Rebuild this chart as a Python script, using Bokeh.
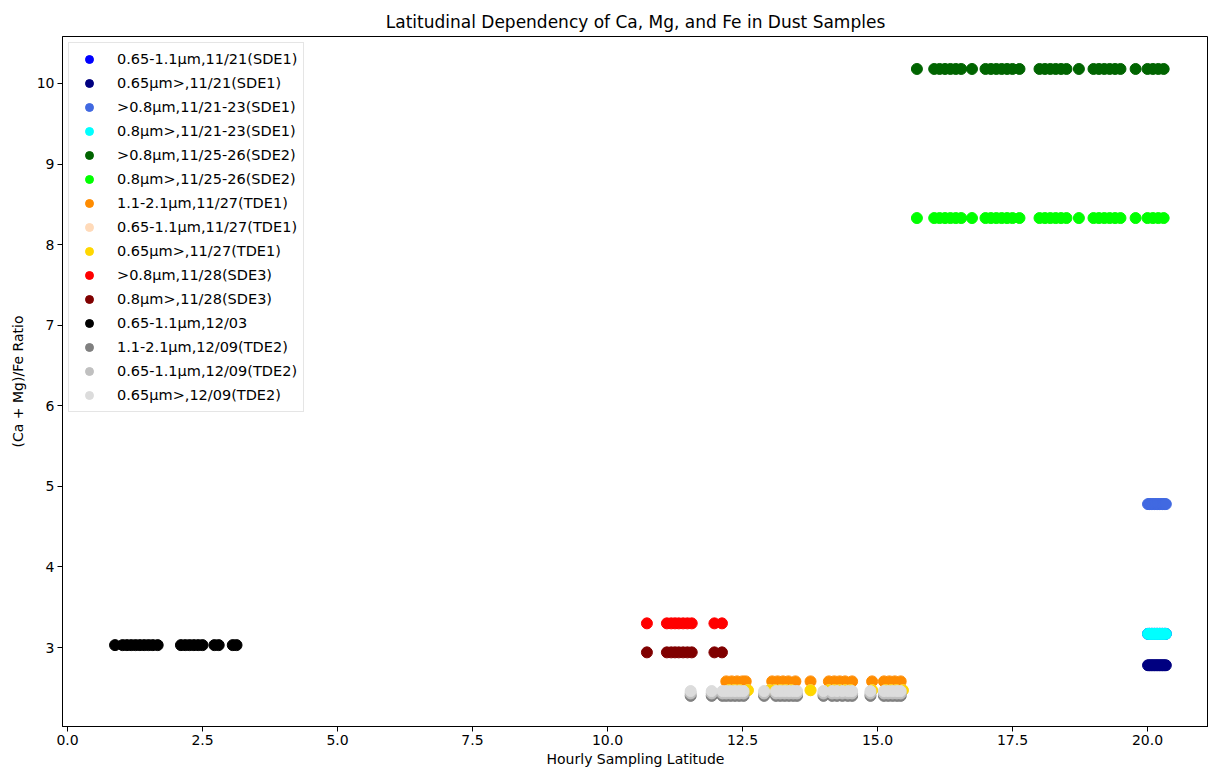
from bokeh.plotting import figure
from bokeh.models import Range1d, FixedTicker, PrintfTickFormatter, Legend, LegendItem
from bokeh.embed import file_html
from bokeh.resources import INLINE

# ---- data ----
labels = [
    "0.65-1.1μm,11/21(SDE1)",
    "0.65μm>,11/21(SDE1)",
    ">0.8μm,11/21-23(SDE1)",
    "0.8μm>,11/21-23(SDE1)",
    ">0.8μm,11/25-26(SDE2)",
    "0.8μm>,11/25-26(SDE2)",
    "1.1-2.1μm,11/27(TDE1)",
    "0.65-1.1μm,11/27(TDE1)",
    "0.65μm>,11/27(TDE1)",
    ">0.8μm,11/28(SDE3)",
    "0.8μm>,11/28(SDE3)",
    "0.65-1.1μm,12/03",
    "1.1-2.1μm,12/09(TDE2)",
    "0.65-1.1μm,12/09(TDE2)",
    "0.65μm>,12/09(TDE2)",
]
colors = ["blue", "navy", "royalblue", "cyan", "darkgreen", "lime", "darkorange",
          "peachpuff", "gold", "red", "maroon", "black", "gray", "silver", "gainsboro"]

lat_sde1 = [20.01, 20.04, 20.07, 20.1, 20.13, 20.16, 20.19, 20.22, 20.25, 20.28, 20.31, 20.34]
lat_sde2 = [15.73, 16.05, 16.15, 16.25, 16.35, 16.45, 16.55, 16.75,
            17.0, 17.1, 17.2, 17.3, 17.4, 17.5, 17.63,
            18.0, 18.1, 18.2, 18.3, 18.4, 18.5, 18.73,
            19.0, 19.1, 19.2, 19.3, 19.4, 19.5, 19.78,
            20.0, 20.1, 20.2, 20.3]
lat_tde1_coarse = [12.2, 12.3, 12.4, 12.5, 12.56,
                   13.05, 13.15, 13.25, 13.35, 13.48, 13.76,
                   14.1, 14.2, 14.3, 14.4, 14.53, 14.9,
                   15.12, 15.22, 15.32, 15.43]
lat_tde1_fine = [12.25, 12.35, 12.45, 12.6, 13.0, 13.1, 13.2, 13.3, 13.4, 13.76,
                 14.1, 14.2, 14.3, 14.4, 14.5, 14.9, 15.15, 15.25, 15.35, 15.47]
lat_sde3 = [10.73, 11.1, 11.18, 11.25, 11.32, 11.4, 11.48, 11.56, 11.98, 12.12]
lat_1203 = [0.88, 1.02, 1.1, 1.18, 1.26, 1.34, 1.42, 1.5, 1.58, 1.67,
            2.1, 2.18, 2.26, 2.34, 2.42, 2.5, 2.72, 2.8, 3.06, 3.13]
lat_tde2 = [11.54, 11.93, 12.13, 12.2, 12.28, 12.36, 12.44, 12.52, 12.9,
            13.12, 13.2, 13.28, 13.36, 13.44, 13.51, 14.0, 14.16, 14.25, 14.35,
            14.45, 14.53, 14.87, 15.12, 15.2, 15.28, 15.36, 15.43]

series_lat = [lat_sde1, lat_sde1, lat_sde1, lat_sde1, lat_sde2, lat_sde2,
              lat_tde1_coarse, lat_tde1_fine, lat_tde1_fine, lat_sde3, lat_sde3,
              lat_1203, lat_tde2, lat_tde2, lat_tde2]
series_ratio = [3.17, 2.78, 4.78, 3.17, 10.18, 8.33, 2.58, 2.47, 2.47,
                3.30, 2.94, 3.03, 2.40, 2.43, 2.46]

x_ticks = [0.0, 2.5, 5.0, 7.5, 10.0, 12.5, 15.0, 17.5, 20.0]
y_ticks = [3, 4, 5, 6, 7, 8, 9, 10]

FONT = "DejaVu Sans"

p = figure(width=1208, height=770, output_backend="svg", toolbar_location=None,
           x_range=Range1d(-0.093, 21.13), y_range=Range1d(2.02, 10.583),
           title="Latitudinal Dependency of Ca, Mg, and Fe in Dust Samples",
           min_border_left=62, min_border_top=36, min_border_right=0, min_border_bottom=44)

p.title.align = "center"
p.title.text_font = FONT
p.title.text_font_size = "17px"
p.title.text_font_style = "normal"
p.title.text_color = "black"

p.xgrid.visible = False
p.ygrid.visible = False
p.outline_line_color = "black"
p.outline_line_width = 1

for ax in (p.xaxis[0], p.yaxis[0]):
    ax.axis_line_color = "black"
    ax.major_tick_line_color = "black"
    ax.minor_tick_line_color = None
    ax.major_tick_in = 0
    ax.major_tick_out = 5
    ax.major_label_text_font = FONT
    ax.major_label_text_font_size = "14px"
    ax.major_label_text_color = "black"
    ax.axis_label_text_font = FONT
    ax.axis_label_text_font_size = "14px"
    ax.axis_label_text_font_style = "normal"
    ax.axis_label_text_color = "black"
    ax.major_label_standoff = 3

p.xaxis.ticker = FixedTicker(ticks=x_ticks)
p.xaxis.formatter = PrintfTickFormatter(format="%.1f")
p.yaxis.ticker = FixedTicker(ticks=y_ticks)
p.xaxis.axis_label = "Hourly Sampling Latitude"
p.yaxis.axis_label = "(Ca + Mg)/Fe Ratio"
p.xaxis.axis_label_standoff = 3
p.yaxis.axis_label_standoff = 8

items = []
for lab, col, xs, r in zip(labels, colors, series_lat, series_ratio):
    ys = [r] * len(xs)
    g = p.scatter(xs, ys, size=11, fill_color=col, line_color=col, marker="circle")
    items.append(LegendItem(label=lab, renderers=[g]))

legend = Legend(items=items, location="top_left")
legend.margin = 6
legend.padding = 6
legend.spacing = 4
legend.glyph_width = 28
legend.glyph_height = 20
legend.label_height = 20
legend.label_standoff = 14
legend.label_text_font = FONT
legend.label_text_font_size = "14.5px"
legend.label_text_color = "black"
legend.border_line_color = "#cccccc"
legend.border_line_width = 1
legend.background_fill_alpha = 0.8
p.add_layout(legend)

open("out.html", "w").write(file_html(p, INLINE))
